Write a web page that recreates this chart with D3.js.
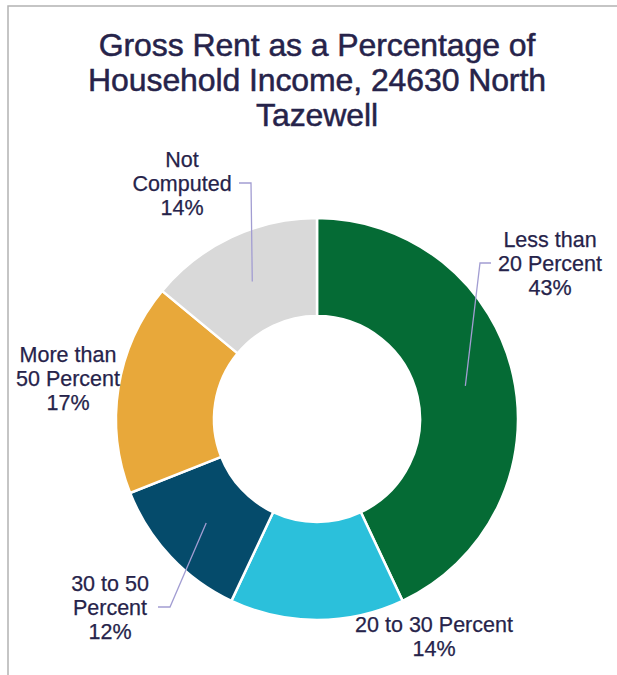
<!DOCTYPE html>
<html>
<head>
<meta charset="utf-8">
<script src="https://cdn.jsdelivr.net/npm/d3@7"></script>
<style>
    body { margin: 0; background: #fff; }
    svg { display: block; }
</style>
</head>
<body>
<div id="chart"></div>
<script>
// slices, clockwise from 12 o'clock
const categories = ["Less than 20 Percent", "20 to 30 Percent", "30 to 50 Percent", "More than 50 Percent", "Not Computed"];
const shares = [43, 14, 12, 17, 14];
const labelLines = [
    ["Less than", "20 Percent"],
    ["20 to 30 Percent"],
    ["30 to 50", "Percent"],
    ["More than", "50 Percent"],
    ["Not", "Computed"]
];
const colors = ["#056b35", "#2bc0db", "#054b6b", "#e8a83a", "#d9d9d9"];
const titleLines = ["Gross Rent as a Percentage of", "Household Income, 24630 North", "Tazewell"];

const width = 617;
const height = 675;
const cx = 317, cy = 419;
const outerR = 201, innerR = 103;
const textColor = "#26234a";
const leaderColor = "#a29dd2";

// where each label block sits (center x, first baseline) and the elbow of its leader line
const labelLayout = [
    { x: 550, y: 247, leader: { x: 480, y: 263, end: 491 } },
    { x: 434, y: 632, leader: null },
    { x: 110, y: 591, leader: { x: 170, y: 607, end: 158 } },
    { x: 68, y: 362, leader: null },
    { x: 182, y: 167, leader: { x: 251, y: 183, end: 239 } }
];

const svg = d3.select("#chart")
    .append("svg")
    .attr("width", width)
    .attr("height", height)
    .attr("viewBox", [0, 0, width, height]);

// frame
svg.append("path")
    .attr("d", `M8,${height} V6 H${width}`)
    .attr("fill", "none")
    .attr("stroke", "#b3b3b3")
    .attr("stroke-width", 1.5);

svg.append("g")
    .selectAll("text")
    .data(titleLines)
    .join("text")
    .attr("x", cx)
    .attr("y", (d, i) => 56 + i * 35)
    .attr("text-anchor", "middle")
    .attr("font-family", "'Liberation Sans', Arial, sans-serif")
    .attr("font-size", 32)
    .attr("letter-spacing", -0.1)
    .attr("fill", textColor)
    .attr("stroke", textColor)
    .attr("stroke-width", 0.5)
    .text(d => d);

let pie = d3.pie().sort(null).value(d => d);
let arcs = pie(shares);
let arc = d3.arc().innerRadius(innerR).outerRadius(outerR);

let g = svg.append("g").attr("transform", `translate(${cx},${cy})`);

g.selectAll("path")
    .data(arcs)
    .join("path")
    .attr("d", arc)
    .attr("fill", (d, i) => colors[i])
    .attr("stroke", "#fff")
    .attr("stroke-width", 2.5);

// leader lines run from the slice centroid to the elbow, then flat to the label
arcs.forEach((a, i) => {
    let lay = labelLayout[i];
    if (!lay.leader) return;
    let c = arc.centroid(a);
    let px = cx + c[0], py = cy + c[1];
    svg.append("polyline")
        .attr("points", [[px, py], [lay.leader.x, lay.leader.y], [lay.leader.end, lay.leader.y]].join(" "))
        .attr("fill", "none")
        .attr("stroke", leaderColor)
        .attr("stroke-width", 1.3);
});

arcs.forEach((a, i) => {
    let lay = labelLayout[i];
    let lines = labelLines[i].concat([d3.format(".0f")(shares[i]) + "%"]);
    let t = svg.append("text")
        .attr("text-anchor", "middle")
        .attr("font-family", "'Liberation Sans', Arial, sans-serif")
        .attr("font-size", 21.5)
        .attr("fill", textColor)
        .attr("stroke", textColor)
        .attr("stroke-width", 0.25);
    lines.forEach((line, j) => {
        t.append("tspan")
            .attr("x", lay.x)
            .attr("y", lay.y + j * 24)
            .text(line);
    });
});
</script>
</body>
</html>
